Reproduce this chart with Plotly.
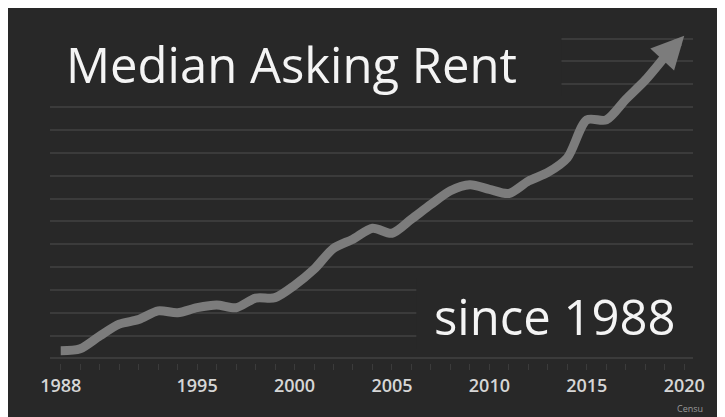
import plotly.graph_objects as go

years = list(range(1988, 2021))
rent = [317, 321, 349, 375, 385, 404, 400, 411, 417, 411, 432, 433, 460,
        495, 541, 561, 585, 574, 605, 637, 667, 680, 670, 661, 688, 707,
        739, 822, 822, 867, 909, 960, 1006]
tick_years = [1988, 1995, 2000, 2005, 2010, 2015, 2020]
tick_text = [str(y) for y in tick_years]

BG = "#282828"
GRID = "#3b3b3b"
LINE = "#7c7c7c"

fig = go.Figure()
# the rising line (last segment drawn as an arrow below)
fig.add_trace(go.Scatter(
    x=years[:-1], y=rent[:-1], mode="lines",
    line=dict(color=LINE, width=9, shape="spline", smoothing=0.8),
    cliponaxis=False, hoverinfo="skip", showlegend=False,
))
# arrow for the final segment
fig.add_annotation(x=years[-1], y=rent[-1], ax=years[-2], ay=rent[-2],
                   xref="x", yref="y", axref="x", ayref="y", text="",
                   showarrow=True, arrowhead=2, arrowsize=0.72, arrowwidth=9,
                   arrowcolor=LINE, standoff=0, startstandoff=0)

# masks hiding gridlines behind the big texts
fig.add_shape(type="rect", xref="x", yref="y", x0=1987.3, x1=2013.7, y0=875, y1=1030,
              fillcolor=BG, line=dict(width=0), layer="between")
fig.add_shape(type="rect", xref="x", yref="y", x0=2006.25, x1=2021, y0=322, y1=476,
              fillcolor=BG, line=dict(width=0), layer="between")

fig.add_annotation(text="Median Asking Rent", xref="paper", yref="y",
                   x=0.376, y=945, xanchor="center", yanchor="middle", showarrow=False,
                   font=dict(family="Open Sans", size=49, color="#f4f4f4"))
fig.add_annotation(text="since 1988", xref="paper", yref="y",
                   x=0.785, y=392, xanchor="center", yanchor="middle", showarrow=False,
                   font=dict(family="Open Sans", size=49, color="#f4f4f4"))
fig.add_annotation(text="Censu", xref="paper", yref="paper",
                   x=0.995, y=-0.137, xanchor="center", yanchor="middle", showarrow=False,
                   font=dict(family="Open Sans", size=9, color="#9a9a9a"))

fig.update_layout(
    width=717, height=409,
    margin=dict(l=41.5, r=32, t=26, b=54),
    paper_bgcolor=BG, plot_bgcolor=BG,
    xaxis=dict(range=[1987.45, 2020.45], tickmode="array", tickvals=tick_years,
               ticktext=tick_text, showgrid=False, zeroline=False, showline=False,
               ticks="outside", ticklen=6, tickcolor=GRID, tickwidth=1,
               minor=dict(dtick=1, tick0=1988, ticks="outside", ticklen=6,
                          tickcolor=GRID, showgrid=False),
               tickfont=dict(family="Open Sans", size=18, weight=600, color="#d6d6d6")),
    yaxis=dict(range=[290, 1010], dtick=50, tick0=300, showgrid=True,
               gridcolor=GRID, gridwidth=2, zeroline=False, showticklabels=False,
               showline=False),
)

fig.write_html("out.html")
